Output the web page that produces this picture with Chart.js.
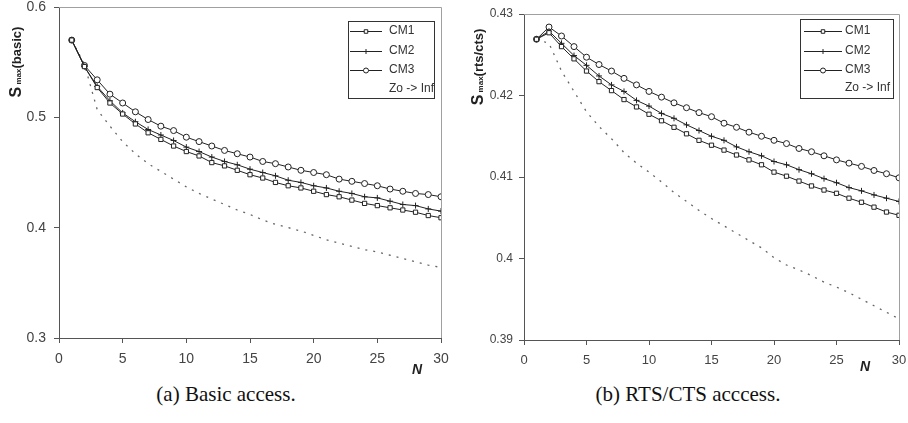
<!DOCTYPE html>
<html>
<head>
<meta charset="utf-8">
<script src="https://cdn.jsdelivr.net/npm/chart.js@4.4.1/dist/chart.umd.min.js"></script>
<style>
  body { margin: 0; background: #fff; width: 908px; height: 423px; overflow: hidden; position: relative; }
  canvas { position: absolute; top: 0; }
  .cap { position: absolute; top: 384px; font: 21px "Liberation Serif", "Times New Roman", serif; color: #111; text-align: center; line-height: 21px; }
</style>
</head>
<body>
<canvas id="basicChart" width="460" height="380" style="left:0"></canvas>
<canvas id="rtsChart" width="448" height="380" style="left:460px"></canvas>
<div class="cap" style="left:0;width:452px">(a) Basic access.</div>
<div class="cap" style="left:460px;width:456px">(b) RTS/CTS acccess.</div>

<script>
// --- Data ---
const nValues = [1, 2, 3, 4, 5, 6, 7, 8, 9, 10, 11, 12, 13, 14, 15, 16, 17, 18, 19, 20, 21, 22, 23, 24, 25, 26, 27, 28, 29, 30];
const seriesNames = ["CM1", "CM2", "CM3", "Zo -> Inf"];

const basicCM1 = [0.570, 0.546, 0.527, 0.513, 0.503, 0.494, 0.486, 0.480, 0.474, 0.469, 0.465, 0.459, 0.456, 0.452, 0.448, 0.445, 0.441, 0.438, 0.436, 0.433, 0.430, 0.428, 0.425, 0.422, 0.420, 0.418, 0.416, 0.414, 0.411, 0.409];
const basicCM2 = [0.570, 0.546, 0.528, 0.515, 0.504, 0.496, 0.489, 0.484, 0.479, 0.473, 0.469, 0.464, 0.460, 0.457, 0.453, 0.450, 0.447, 0.443, 0.441, 0.438, 0.436, 0.433, 0.431, 0.428, 0.427, 0.424, 0.421, 0.420, 0.417, 0.415];
const basicCM3 = [0.570, 0.547, 0.534, 0.521, 0.513, 0.505, 0.498, 0.492, 0.488, 0.482, 0.478, 0.474, 0.470, 0.467, 0.464, 0.460, 0.458, 0.455, 0.452, 0.450, 0.448, 0.444, 0.442, 0.440, 0.438, 0.435, 0.433, 0.431, 0.430, 0.428];
const basicZo  = [0.570, 0.548, 0.507, 0.492, 0.478, 0.467, 0.458, 0.451, 0.444, 0.437, 0.431, 0.426, 0.421, 0.416, 0.412, 0.407, 0.403, 0.400, 0.397, 0.393, 0.389, 0.386, 0.383, 0.380, 0.378, 0.375, 0.372, 0.369, 0.366, 0.364];

const rtsCM1 = [0.4269, 0.4277, 0.4260, 0.4245, 0.4230, 0.4217, 0.4206, 0.4195, 0.4186, 0.4177, 0.4169, 0.4161, 0.4153, 0.4145, 0.4139, 0.4133, 0.4127, 0.4121, 0.4115, 0.4106, 0.4101, 0.4095, 0.4089, 0.4084, 0.4080, 0.4074, 0.4069, 0.4063, 0.4057, 0.4053];
const rtsCM2 = [0.4269, 0.4279, 0.4264, 0.4249, 0.4237, 0.4224, 0.4213, 0.4205, 0.4194, 0.4187, 0.4178, 0.4172, 0.4164, 0.4157, 0.4150, 0.4145, 0.4137, 0.4131, 0.4126, 0.4119, 0.4115, 0.4109, 0.4104, 0.4098, 0.4093, 0.4087, 0.4083, 0.4078, 0.4074, 0.4070];
const rtsCM3 = [0.4269, 0.4284, 0.4273, 0.4260, 0.4247, 0.4238, 0.4230, 0.4221, 0.4213, 0.4205, 0.4198, 0.4191, 0.4185, 0.4179, 0.4174, 0.4166, 0.4161, 0.4155, 0.4150, 0.4145, 0.4141, 0.4135, 0.4131, 0.4126, 0.4121, 0.4117, 0.4113, 0.4108, 0.4104, 0.4099];
const rtsZo  = [0.4269, 0.4264, 0.4230, 0.4205, 0.4180, 0.4162, 0.4147, 0.4130, 0.4117, 0.4106, 0.4094, 0.4081, 0.4070, 0.4059, 0.4049, 0.4040, 0.4031, 0.4022, 0.4013, 0.4001, 0.3992, 0.3986, 0.3979, 0.3971, 0.3965, 0.3958, 0.3950, 0.3942, 0.3934, 0.3926];

const xTicks = [0, 5, 10, 15, 20, 25, 30];
const basicYTicks = [0.3, 0.4, 0.5, 0.6];
const rtsYTicks = [0.39, 0.40, 0.41, 0.42, 0.43];

// --- Helpers ---
const LINE = "#222";
const AXIS = "#555";
const markerStyles = ["rect", "cross", "circle", false];

function toPoints(ys) { return nValues.map((n, i) => ({ x: n, y: ys[i] })); }

function buildDatasets(series) {
  return series.map((ys, i) => {
    const isZo = i === 3;
    return {
      label: seriesNames[i],
      data: toPoints(ys),
      borderColor: isZo ? "#666" : LINE,
      borderWidth: isZo ? 1.3 : 1,
      borderDash: isZo ? [2, 6] : [],
      backgroundColor: "#fff",
      pointStyle: markerStyles[i],
      pointRadius: isZo ? 0 : 3,
      pointBorderColor: LINE,
      pointBorderWidth: 1,
      tension: 0
    };
  });
}

// no extra room for overhanging tick labels; the layout padding decides
function noOverhang(s) {
  s.paddingTop = 0; s.paddingBottom = 0; s.paddingLeft = 0; s.paddingRight = 0;
}

// Draws the plot frame, the boxed legend and the y-axis title
const decorPlugin = {
  id: "decor",
  afterDraw(chart, args, opts) {
    const ctx = chart.ctx;
    const a = chart.chartArea;
    ctx.save();

    // light top/right frame
    ctx.strokeStyle = "#a0a0a0";
    ctx.lineWidth = 1;
    ctx.beginPath();
    ctx.moveTo(a.left, a.top + 0.5);
    ctx.lineTo(a.right + 0.5, a.top + 0.5);
    ctx.lineTo(a.right + 0.5, a.bottom);
    ctx.stroke();

    // legend box
    const lg = opts.legend;
    const bx = a.right - lg.offRight - lg.w;
    const by = a.top + lg.offTop;
    ctx.fillStyle = "#fff";
    ctx.fillRect(bx, by, lg.w, lg.h);
    ctx.strokeStyle = "#333";
    ctx.strokeRect(bx + 0.5, by + 0.5, lg.w, lg.h);
    ctx.font = "12px 'Liberation Sans', Arial, sans-serif";
    ctx.textBaseline = "middle";
    chart.data.datasets.forEach((ds, i) => {
      const y = by + lg.rows[i];
      if (i < 3) {
        ctx.strokeStyle = LINE;
        ctx.lineWidth = 1;
        ctx.beginPath();
        ctx.moveTo(bx + lg.lineX0, y + 0.5);
        ctx.lineTo(bx + lg.lineX1, y + 0.5);
        ctx.stroke();
        ctx.fillStyle = "#fff";
        Chart.helpers.drawPoint(ctx, {
          pointStyle: ds.pointStyle, radius: 2.5, rotation: 0, borderWidth: 1
        }, bx + (lg.lineX0 + lg.lineX1) / 2, y + 0.5);
      }
      ctx.fillStyle = "#333";
      ctx.fillText(ds.label, bx + lg.textX, y);
    });

    // rotated y title: S (max) (...)
    const t = opts.title;
    ctx.translate(a.left - t.offLeft, a.top + t.offTop);
    ctx.rotate(-Math.PI / 2);
    ctx.textBaseline = "alphabetic";
    let total = 0;
    t.parts.forEach(p => { ctx.font = p[1]; total += ctx.measureText(p[0]).width; });
    let x = -total / 2;
    ctx.fillStyle = "#222";
    t.parts.forEach(p => {
      ctx.font = p[1];
      ctx.fillText(p[0], x, 5);
      x += ctx.measureText(p[0]).width;
    });
    ctx.restore();

    // N label
    ctx.save();
    ctx.font = "bold italic 14px 'Liberation Sans', Arial, sans-serif";
    ctx.fillStyle = "#222";
    ctx.textAlign = "center";
    ctx.textBaseline = "middle";
    ctx.fillText("N", a.right + opts.nLabel.dx, a.bottom + opts.nLabel.dy);
    ctx.restore();
  }
};

function makeChart(id, series, yTicks, cfg) {
  const yMin = yTicks[0], yMax = yTicks[yTicks.length - 1];
  return new Chart(document.getElementById(id), {
    type: "line",
    data: { datasets: buildDatasets(series) },
    plugins: [decorPlugin],
    options: {
      responsive: false,
      animation: false,
      layout: { padding: { top: cfg.padTop, right: cfg.padRight, left: 0, bottom: 0 } },
      plugins: {
        legend: { display: false },
        tooltip: { enabled: false },
        decor: cfg.decor
      },
      scales: {
        x: {
          type: "linear", min: 0, max: 30,
          afterBuildTicks: s => { s.ticks = xTicks.map(v => ({ value: v })); },
          afterFit: s => { s.height = cfg.xHeight; noOverhang(s); },
          border: { display: true, color: AXIS, width: 1 },
          grid: { drawOnChartArea: false, drawTicks: true, tickLength: 5, color: AXIS },
          ticks: { padding: cfg.xPad, color: "#444", maxRotation: 0,
                   font: { family: "'Liberation Sans', Arial, sans-serif", size: cfg.xFont } }
        },
        y: {
          min: yMin, max: yMax,
          afterBuildTicks: s => { s.ticks = yTicks.map(v => ({ value: v })); },
          afterFit: s => { s.width = cfg.yWidth; noOverhang(s); },
          border: { display: true, color: AXIS, width: 1 },
          grid: { drawOnChartArea: false, drawTicks: true, tickLength: 5, color: AXIS },
          ticks: { padding: cfg.yPad, color: "#444",
                   callback: v => String(parseFloat(v.toFixed(2))),
                   font: { family: "'Liberation Sans', Arial, sans-serif", size: cfg.yFont } }
        }
      }
    }
  });
}

makeChart("basicChart", [basicCM1, basicCM2, basicCM3, basicZo], basicYTicks, {
  padTop: 7, padRight: 19, xHeight: 42, yWidth: 59, xPad: 8, yPad: 8, xFont: 14, yFont: 14,
  decor: {
    legend: { w: 86, h: 77, offRight: 7, offTop: 14, rows: [10, 30, 49, 68], lineX0: 2, lineX1: 34, textX: 41 },
    title: { offLeft: 43, offTop: 55, parts: [["S", "bold 16px 'Liberation Sans', Arial"], [" max", "bold 8px 'Liberation Sans', Arial"], ["(basic)", "bold 13px 'Liberation Sans', Arial"]] },
    nLabel: { dx: -24, dy: 32 }
  }
});

makeChart("rtsChart", [rtsCM1, rtsCM2, rtsCM3, rtsZo], rtsYTicks, {
  padTop: 14, padRight: 9, xHeight: 40, yWidth: 64, xPad: 8, yPad: 6, xFont: 13, yFont: 12,
  decor: {
    legend: { w: 93, h: 79, offRight: 6, offTop: 5, rows: [12, 32, 51, 69], lineX0: 4, lineX1: 42, textX: 45 },
    title: { offLeft: 46, offTop: 53, parts: [["S", "bold 16px 'Liberation Sans', Arial"], [" max", "bold 8px 'Liberation Sans', Arial"], ["(rts/cts)", "bold 13px 'Liberation Sans', Arial"]] },
    nLabel: { dx: -34, dy: 27 }
  }
});
</script>
</body>
</html>
